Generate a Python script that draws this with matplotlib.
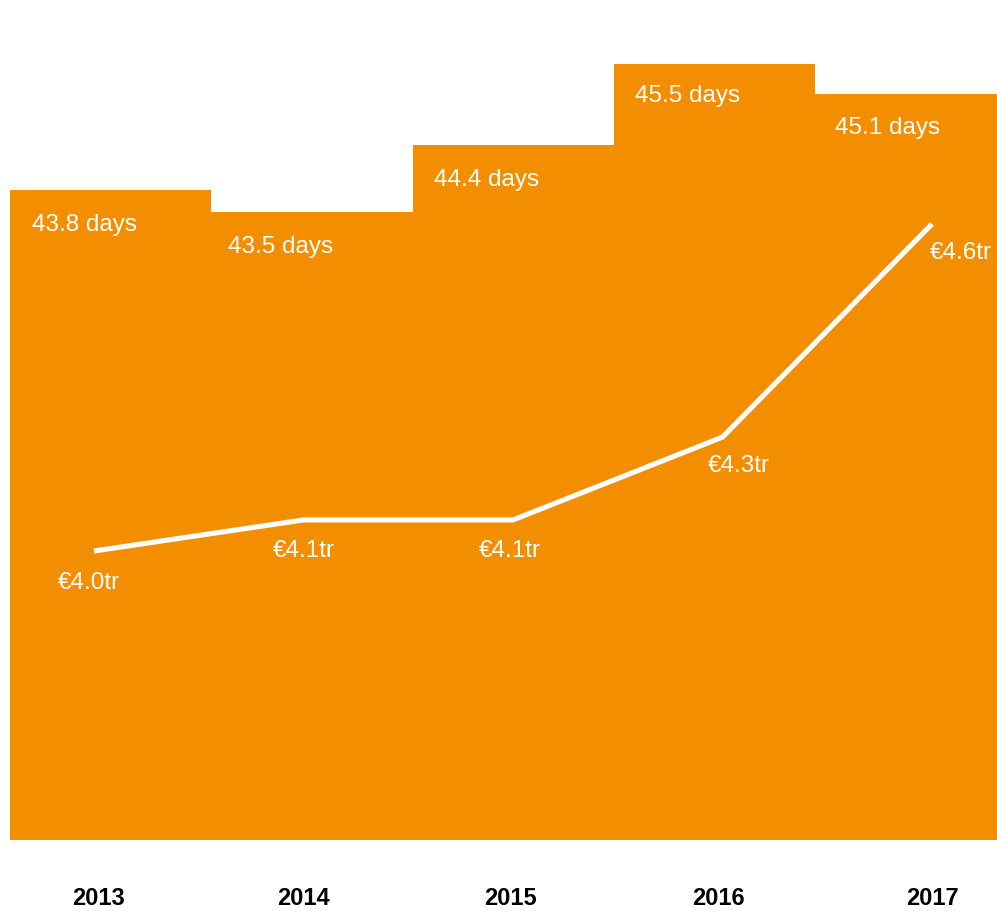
import matplotlib.pyplot as plt

# データ
years = ['2013', '2014', '2015', '2016', '2017']
days = [43.8, 43.5, 44.4, 45.5, 45.1]
day_labels = ['43.8 days', '43.5 days', '44.4 days', '45.5 days', '45.1 days']
value_tr = [4.0, 4.057, 4.057, 4.209, 4.6]
value_labels = ['€4.0tr', '€4.1tr', '€4.1tr', '€4.3tr', '€4.6tr']

orange = '#f28e00'
plt.rcParams['font.family'] = ['Liberation Sans', 'DejaVu Sans']

fig = plt.figure(figsize=(9.97, 9.11), dpi=100)
rect = [10 / 997, 71 / 911, 987 / 997, 840 / 911]

# 棒グラフ（日数）
ax = fig.add_axes(rect)
x = range(len(years))
ax.bar(x, days, width=1.0, bottom=0, color=orange, linewidth=0)
ax.set_xlim(-0.5, -0.5 + 987 / 201.25)
ax.set_ylim(35.014, 46.365)
ax.axis('off')

day_offsets = [(22, -41), (17, -41), (21, -41), (21, -38), (20, -40)]
for i, (v, lab) in enumerate(zip(days, day_labels)):
    ax.annotate(lab, xy=(i - 0.5, v), xytext=day_offsets[i], textcoords='offset pixels',
                ha='left', va='baseline', color='white', fontsize=17.5)

# 折れ線（金額）
ax2 = fig.add_axes(rect)
ax2.patch.set_alpha(0)
ax2.plot(x, value_tr, color='white', linewidth=3.7, solid_joinstyle='miter', solid_capstyle='butt')
ax2.set_xlim((10 - 94) / 209.5, (997 - 94) / 209.5)
ax2.set_ylim(4.0 - 289 / 545, 4.0 + 551 / 545)
ax2.axis('off')

value_offsets = [(-5.5, -38), (0, -37), (-3.5, -37), (16, -35), (29, -35)]
for i, (v, lab) in enumerate(zip(value_tr, value_labels)):
    ax2.annotate(lab, xy=(i, v), xytext=value_offsets[i], textcoords='offset pixels',
                 ha='center', va='baseline', color='white', fontsize=17.5)

# 年ラベル
year_dx = [4, 0, -3, -4, 0]
for i, y in enumerate(years):
    ax2.annotate(y, xy=(i, 0), xycoords=ax2.get_xaxis_transform(),
                 xytext=(year_dx[i], -65), textcoords='offset pixels',
                 ha='center', va='baseline', fontsize=17, fontweight='bold',
                 color='black', annotation_clip=False)

fig.savefig('out.png', dpi=100)
